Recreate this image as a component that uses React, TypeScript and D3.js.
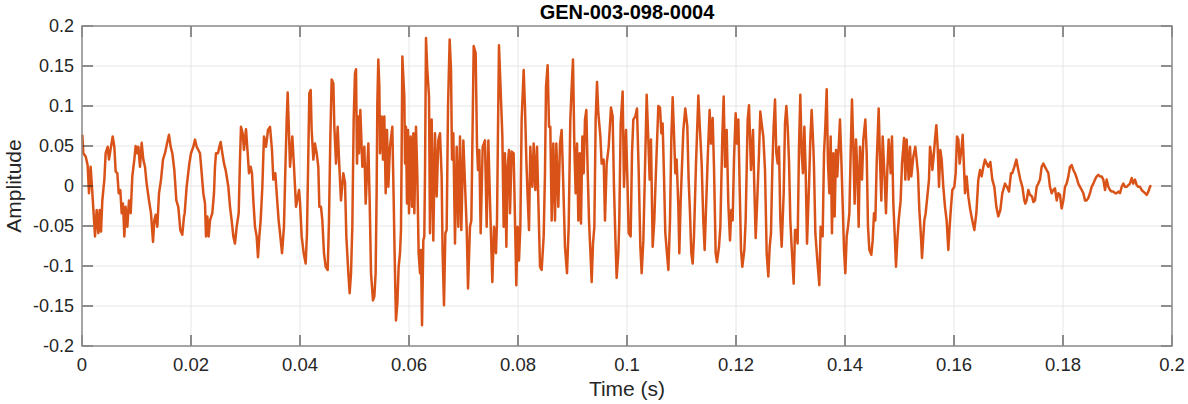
import React from "react";
import * as d3 from "d3";

const TITLE = "GEN-003-098-0004";
const X_LABEL = "Time (s)";
const Y_LABEL = "Amplitude";
const X_TICKS = [0, 0.02, 0.04, 0.06, 0.08, 0.1, 0.12, 0.14, 0.16, 0.18, 0.2];
const Y_TICKS = [-0.2, -0.15, -0.1, -0.05, 0, 0.05, 0.1, 0.15, 0.2];
const X_DOMAIN = [0, 0.2];
const Y_DOMAIN = [-0.2, 0.2];

// sample times in milliseconds
const timeMs = [
  0.06, 0.24, 0.67, 1.04, 1.28, 1.59, 1.9, 2.39, 2.69, 3.0, 3.24, 3.49, 3.73, 4.1, 4.34, 4.71, 4.95, 5.32, 5.63, 5.93,
  6.18, 6.48, 6.73, 7.03, 7.28, 7.52, 7.77, 8.01, 8.32, 8.62, 8.93, 9.23, 9.6, 9.84, 10.09, 10.34, 10.64, 10.95, 11.25, 11.56,
  11.86, 12.29, 12.66, 13.03, 13.27, 13.52, 13.82, 14.13, 14.5, 14.86, 15.23, 15.6, 15.96, 16.27, 16.57, 16.94, 17.31, 17.67, 18.04, 18.4,
  18.72, 18.84, 19.2, 19.69, 20.0, 20.43, 20.73, 21.04, 21.35, 21.65, 21.96, 22.26, 22.57, 22.75, 23.0, 23.24, 23.49, 23.91, 24.22, 24.4,
  24.59, 24.95, 25.2, 25.44, 25.75, 26.06, 26.36, 26.85, 27.16, 27.46, 27.77, 28.07, 28.38, 28.75, 28.99, 29.17, 29.48, 29.72, 30.09, 30.4,
  30.64, 30.95, 31.19, 31.44, 31.74, 32.05, 32.29, 32.54, 32.78, 33.09, 33.39, 33.76, 34.13, 34.5, 34.86, 35.11, 35.47, 35.72, 36.08, 36.33,
  36.7, 37.06, 37.31, 37.56, 37.74, 38.17, 38.59, 38.9, 39.27, 39.82, 40.0, 40.31, 40.67, 41.04, 41.28, 41.53, 41.71, 41.96, 42.14, 42.45,
  42.75, 43.06, 43.36, 43.55, 43.85, 44.1, 44.4, 44.71, 45.08, 45.32, 45.57, 45.81, 46.12, 46.3, 46.61, 46.91, 47.16, 47.52, 47.95, 48.26,
  48.5, 48.87, 49.11, 49.36, 49.6, 49.85, 50.09, 50.28, 50.46, 50.64, 50.83, 51.07, 51.44, 51.81, 52.05, 52.54, 52.78, 53.03, 53.39, 53.64,
  53.88, 54.07, 54.19, 54.37, 54.56, 54.68, 54.99, 55.23, 55.47, 55.72, 55.96, 56.21, 56.51, 56.94, 57.19, 57.36, 57.61, 57.86, 58.1, 58.35,
  58.53, 58.65, 58.78, 58.96, 59.14, 59.27, 59.45, 59.63, 59.82, 60.0, 60.31, 60.55, 60.8, 60.98, 61.28, 61.53, 61.77, 62.02, 62.2, 62.39,
  62.63, 62.81, 62.94, 63.12, 63.36, 63.67, 63.85, 64.16, 64.46, 64.77, 65.08, 65.38, 65.69, 65.99, 66.17, 66.42, 66.67, 66.91, 67.16, 67.46,
  67.71, 67.89, 68.13, 68.44, 68.75, 69.05, 69.36, 69.6, 69.97, 70.34, 70.58, 70.83, 71.19, 71.44, 71.69, 71.87, 72.23, 72.48, 72.66, 72.9,
  73.15, 73.52, 73.94, 74.25, 74.56, 74.86, 75.29, 75.6, 75.96, 76.15, 76.33, 76.51, 76.88, 77.13, 77.37, 77.61, 77.86, 78.1, 78.35, 78.53,
  78.84, 79.2, 79.45, 79.69, 79.94, 80.18, 80.43, 80.67, 81.04, 81.28, 81.53, 81.77, 82.02, 82.26, 82.63, 82.88, 83.18, 83.49, 83.73, 84.04,
  84.34, 84.71, 84.95, 85.14, 85.44, 85.69, 85.93, 86.18, 86.48, 86.79, 87.03, 87.4, 87.71, 88.01, 88.32, 88.62, 88.99, 89.3, 89.6, 89.85,
  90.09, 90.34, 90.58, 90.83, 91.07, 91.32, 91.56, 91.81, 92.05, 92.29, 92.54, 92.78, 93.03, 93.27, 93.52, 93.76, 94.01, 94.25, 94.5, 94.74,
  95.11, 95.35, 95.72, 95.96, 96.27, 96.64, 97.06, 97.37, 97.61, 97.86, 98.1, 98.41, 98.59, 98.84, 99.2, 99.45, 99.82, 100.06, 100.31, 100.67,
  100.92, 101.16, 101.53, 101.83, 102.14, 102.45, 102.69, 103.0, 103.3, 103.61, 103.91, 104.16, 104.4, 104.71, 105.01, 105.32, 105.75, 106.06, 106.3, 106.54,
  106.79, 107.03, 107.28, 107.59, 107.89, 108.14, 108.38, 108.62, 108.87, 109.11, 109.42, 109.6, 109.85, 110.34, 110.7, 111.07, 111.31, 111.56, 111.8, 112.05,
  112.29, 112.66, 113.09, 113.39, 113.7, 114.0, 114.25, 114.8, 115.16, 115.41, 115.72, 115.96, 116.27, 116.51, 116.88, 117.13, 117.49, 117.74, 117.98, 118.29,
  118.59, 118.9, 119.14, 119.39, 119.63, 119.94, 120.18, 120.43, 120.67, 120.92, 121.16, 121.53, 121.77, 122.14, 122.39, 122.75, 123.12, 123.36, 123.61, 123.85,
  124.22, 124.46, 124.71, 125.01, 125.32, 125.63, 125.93, 126.18, 126.42, 126.67, 126.91, 127.16, 127.4, 127.65, 127.89, 128.14, 128.38, 128.75, 128.99, 129.24,
  129.48, 129.72, 129.97, 130.21, 130.58, 130.83, 131.07, 131.31, 131.56, 131.8, 132.05, 132.29, 132.54, 132.78, 133.03, 133.39, 133.64, 133.88, 134.19, 134.31,
  134.56, 134.92, 135.29, 135.53, 135.9, 136.15, 136.39, 136.64, 136.88, 137.13, 137.37, 137.61, 137.86, 138.1, 138.35, 138.59, 138.84, 139.08, 139.33, 139.57,
  139.82, 140.06, 140.31, 140.55, 140.8, 141.04, 141.28, 141.53, 141.77, 142.02, 142.26, 142.51, 142.75, 143.12, 143.36, 143.73, 143.98, 144.22, 144.47, 144.83,
  145.08, 145.32, 145.57, 145.81, 146.18, 146.42, 146.67, 146.91, 147.28, 147.52, 147.77, 148.01, 148.38, 148.62, 148.87, 149.11, 149.36, 149.6, 149.85, 150.21,
  150.46, 150.83, 151.07, 151.31, 151.68, 151.93, 152.17, 152.54, 152.9, 153.15, 153.39, 153.64, 153.94, 154.13, 154.37, 154.56, 154.8, 155.17, 155.41, 155.6,
  155.78, 156.03, 156.27, 156.51, 156.76, 157.0, 157.25, 157.49, 157.74, 158.04, 158.35, 158.65, 158.96, 159.2, 159.45, 159.69, 160.06, 160.31, 160.55, 160.8,
  161.04, 161.41, 161.59, 161.83, 162.02, 162.32, 162.63, 162.99, 163.36, 163.73, 164.1, 164.46, 164.77, 165.08, 165.38, 165.69, 165.99, 166.3, 166.67, 167.03,
  167.4, 167.77, 168.13, 168.5, 168.87, 169.36, 169.72, 170.09, 170.46, 170.7, 171.07, 171.44, 171.8, 172.17, 172.54, 172.9, 173.09, 173.33, 173.64, 173.94,
  174.31, 174.56, 174.86, 175.17, 175.47, 175.78, 176.08, 176.39, 176.7, 177.0, 177.31, 177.61, 177.92, 178.23, 178.53, 178.84, 179.14, 179.45, 179.75, 180.06,
  180.37, 180.67, 180.98, 181.28, 181.59, 181.9, 182.2, 182.51, 182.81, 183.12, 183.43, 183.73, 184.04, 184.34, 184.65, 184.95, 185.26, 185.57, 185.87, 186.18,
  186.48, 186.79, 187.1, 187.4, 187.71, 188.01, 188.32, 188.62, 188.93, 189.24, 189.54, 189.85, 190.15, 190.46, 190.76, 191.07, 191.38, 191.68, 191.99, 192.29,
  192.6, 192.9, 193.21, 193.52, 193.82, 194.13, 194.43, 194.74, 195.05, 195.35, 195.66, 195.96, 196.15,
];

// amplitude at each sample
const amplitude = [
  0.064, 0.041, 0.037, 0.026, -0.009, 0.024, -0.009, -0.063, -0.03, -0.059, -0.03, -0.057, -0.018, 0.008, 0.041, 0.049, 0.033, 0.049, 0.062, 0.049,
  0.018, 0.016, -0.009, -0.005, -0.034, -0.022, -0.063, -0.026, -0.051, -0.018, -0.034, 0.012, 0.033, 0.05, 0.041, 0.049, 0.024, 0.054, 0.033, 0.024,
  0.003, -0.018, -0.034, -0.07, -0.043, -0.036, -0.051, -0.009, 0.008, 0.033, 0.041, 0.053, 0.064, 0.049, 0.041, 0.02, -0.018, -0.026, -0.055, -0.061,
  -0.038, -0.034, -0.001, 0.028, 0.041, 0.049, 0.058, 0.049, 0.045, 0.041, 0.016, -0.009, -0.022, -0.063, -0.038, -0.063, -0.043, -0.034, -0.009, 0.024,
  0.041, 0.041, 0.049, 0.055, 0.041, 0.028, 0.02, -0.001, -0.026, -0.043, -0.063, -0.072, -0.051, -0.034, 0.033, 0.074, 0.066, 0.045, 0.071, 0.041,
  0.016, 0.024, 0.016, -0.018, -0.051, -0.063, -0.089, -0.063, -0.043, -0.001, 0.062, 0.049, 0.07, 0.074, 0.045, 0.008, 0.016, -0.009, -0.043, -0.059,
  -0.084, -0.051, 0.02, 0.083, 0.117, 0.024, 0.062, 0.024, -0.026, -0.005, -0.02, -0.063, -0.084, -0.097, -0.059, 0.041, 0.116, 0.12, 0.07, 0.033,
  0.053, 0.041, 0.024, -0.026, -0.026, -0.043, -0.084, -0.101, -0.105, -0.043, 0.062, 0.133, 0.128, 0.074, 0.028, 0.074, 0.033, -0.018, 0.016, 0.004,
  -0.063, -0.109, -0.134, -0.109, -0.051, 0.083, 0.141, 0.146, 0.028, 0.087, 0.041, 0.095, 0.024, 0.049, -0.022, 0.053, -0.018, -0.109, -0.143, -0.138,
  -0.109, -0.001, 0.103, 0.158, 0.124, 0.041, 0.087, 0.033, 0.087, -0.009, 0.07, -0.001, 0.049, 0.074, -0.018, -0.084, -0.168, -0.147, -0.101, -0.084,
  -0.055, 0.041, 0.162, 0.136, 0.112, 0.028, 0.074, -0.022, 0.07, -0.034, 0.062, -0.026, 0.066, -0.034, 0.074, 0.012, -0.084, -0.109, -0.08, -0.174,
  -0.068, -0.063, 0.02, 0.185, 0.145, 0.112, -0.059, 0.083, -0.068, 0.066, -0.013, 0.057, 0.066, 0.012, -0.084, -0.149, -0.059, -0.055, 0.099, 0.183,
  0.145, 0.033, 0.066, -0.072, 0.049, -0.051, 0.062, -0.055, 0.057, -0.009, -0.051, -0.128, -0.051, -0.043, 0.083, 0.175, 0.166, 0.049, 0.02, 0.045,
  -0.059, 0.049, 0.057, -0.051, 0.057, -0.018, -0.12, -0.051, -0.084, -0.043, 0.07, 0.176, 0.108, 0.062, -0.051, 0.041, -0.076, 0.024, 0.045, -0.034,
  0.043, 0.041, -0.043, -0.124, -0.051, -0.093, -0.051, 0.083, 0.145, 0.099, 0.033, -0.013, -0.055, 0.049, -0.001, 0.053, -0.005, 0.049, -0.018, -0.101,
  -0.105, -0.063, 0.016, 0.124, 0.151, 0.074, 0.074, -0.043, 0.053, -0.043, 0.053, -0.026, 0.053, 0.07, -0.001, -0.076, -0.109, -0.051, 0.083, 0.124,
  0.158, 0.049, -0.009, 0.053, -0.043, 0.041, -0.047, 0.062, 0.016, 0.083, 0.095, 0.02, -0.043, -0.08, -0.12, -0.072, -0.051, 0.083, 0.13, 0.091,
  0.062, 0.028, 0.033, -0.043, 0.028, 0.049, 0.098, 0.087, -0.001, -0.063, -0.115, -0.084, -0.043, 0.078, 0.118, -0.001, 0.07, 0.012, -0.059, -0.063,
  0.041, 0.083, 0.087, 0.097, 0.02, -0.076, -0.109, -0.068, 0.02, 0.114, 0.058, 0.008, 0.058, -0.076, -0.043, 0.02, 0.1, 0.098, 0.066, 0.078,
  0.012, -0.059, -0.08, -0.105, -0.043, 0.062, 0.111, 0.066, 0.016, 0.033, -0.026, -0.084, -0.018, 0.07, 0.097, 0.074, 0.008, -0.034, -0.084, -0.097,
  -0.063, 0.028, 0.113, 0.07, 0.028, -0.043, -0.08, 0.033, 0.095, 0.053, 0.085, 0.024, -0.084, -0.095, -0.076, -0.051, 0.062, 0.112, 0.024, 0.07,
  -0.022, -0.068, -0.03, -0.043, 0.033, 0.091, 0.053, 0.083, -0.001, -0.08, -0.101, -0.08, -0.043, 0.083, 0.101, 0.02, 0.07, -0.001, -0.065, -0.026,
  0.041, 0.093, 0.078, 0.062, 0.02, -0.084, -0.113, -0.076, -0.059, 0.024, 0.074, 0.108, 0.041, 0.028, 0.049, -0.043, -0.076, -0.009, 0.078, 0.1,
  0.074, 0.033, -0.043, -0.076, -0.122, -0.055, -0.055, -0.072, 0.049, 0.114, 0.041, 0.016, 0.074, 0.02, -0.072, -0.001, 0.058, 0.095, 0.049, 0.024,
  -0.059, -0.093, -0.124, -0.051, -0.063, 0.041, 0.074, 0.121, 0.028, -0.009, 0.062, -0.059, 0.041, -0.038, 0.045, 0.012, 0.049, 0.083, 0.033, -0.022,
  -0.08, -0.109, -0.063, -0.051, -0.034, 0.041, 0.108, 0.049, -0.022, 0.058, 0.02, -0.051, 0.049, 0.008, 0.058, 0.083, 0.041, -0.051, -0.08, -0.086,
  -0.068, -0.034, -0.043, 0.028, 0.097, 0.033, -0.018, 0.062, 0.008, -0.034, 0.02, 0.058, 0.016, 0.062, -0.022, -0.059, -0.101, -0.068, -0.043, -0.018,
  0.028, 0.06, 0.008, 0.058, 0.008, 0.049, 0.012, 0.037, 0.049, 0.033, 0.016, -0.03, -0.063, -0.09, -0.063, -0.043, -0.034, -0.009, 0.008, 0.049,
  0.041, 0.02, 0.037, 0.058, 0.076, 0.049, -0.001, 0.045, 0.033, -0.001, -0.026, -0.043, -0.08, -0.051, -0.026, -0.005, -0.001, 0.016, 0.062, 0.058,
  0.028, 0.049, 0.064, 0.024, -0.009, 0.012, -0.013, -0.03, -0.043, -0.055, -0.034, 0.008, 0.02, 0.012, 0.024, 0.033, 0.028, 0.024, 0.03, 0.008,
  -0.001, -0.026, -0.038, -0.03, -0.009, 0.003, -0.001, -0.007, 0.016, 0.016, 0.024, 0.033, 0.02, 0.008, -0.001, -0.018, -0.022, -0.018, -0.005, -0.011,
  -0.013, -0.02, -0.018, -0.001, 0.003, 0.008, 0.024, 0.028, 0.024, 0.02, 0.016, -0.001, -0.009, -0.005, -0.003, -0.018, -0.009, -0.011, -0.028, -0.018,
  -0.001, 0.003, 0.012, 0.024, 0.026, 0.02, 0.016, 0.01, 0.003, -0.001, -0.005, -0.009, -0.018, -0.018, -0.015, -0.009, -0.001, 0.003, 0.008, 0.012,
  0.014, 0.012, 0.012, 0.008, -0.005, 0.008, -0.001, -0.005, -0.007, -0.007, -0.009, -0.009, -0.007, -0.009, -0.001, 0.003, -0.001, -0.001, 0.001, 0.003,
  0.01, 0.003, 0.008, 0.001, -0.001, -0.001, -0.005, -0.007, -0.009, -0.011, -0.007, -0.001, 0.001,
];

const W = 1188;
const H = 404;
const LEFT = 82;
const RIGHT = 1172;
const TOP = 26;
const BOTTOM = 346;
const FONT = "'Liberation Sans', Arial, Helvetica, sans-serif";

export default function App() {
  const x = d3.scaleLinear().domain(X_DOMAIN).range([LEFT, RIGHT]);
  const y = d3.scaleLinear().domain(Y_DOMAIN).range([BOTTOM, TOP]);
  const n = Math.min(timeMs.length, amplitude.length);
  const pts: [number, number][] = [];
  for (let i = 0; i < n; i++) pts.push([timeMs[i] / 1000, amplitude[i]]);
  const line = d3
    .line<[number, number]>()
    .x((d) => x(d[0]))
    .y((d) => y(d[1]));
  const tickLen = 11;
  const fmt = (v: number) => String(+v.toFixed(3));

  return (
    <svg
      width={W}
      height={H}
      style={{ position: "absolute", left: 0, top: 0, background: "#fff" }}
      fontFamily={FONT}
    >
      <rect x={0} y={0} width={W} height={H} fill="#fff" />
      {X_TICKS.map((t) => (
        <line key={"gx" + t} x1={x(t)} x2={x(t)} y1={TOP} y2={BOTTOM} stroke="#e6e6e6" strokeWidth={1} />
      ))}
      {Y_TICKS.map((t) => (
        <line key={"gy" + t} x1={LEFT} x2={RIGHT} y1={y(t)} y2={y(t)} stroke="#e6e6e6" strokeWidth={1} />
      ))}
      <path d={line(pts) || ""} fill="none" stroke="#D95319" strokeWidth={2.5} strokeLinejoin="round" />
      {X_TICKS.map((t) => (
        <g key={"tx" + t}>
          <line x1={x(t)} x2={x(t)} y1={BOTTOM} y2={BOTTOM - tickLen} stroke="#262626" strokeWidth={1} />
          <line x1={x(t)} x2={x(t)} y1={TOP} y2={TOP + tickLen} stroke="#262626" strokeWidth={1} />
          <text x={x(t)} y={364} textAnchor="middle" dominantBaseline="central" fontSize={18.5} fill="#262626">
            {fmt(t)}
          </text>
        </g>
      ))}
      {Y_TICKS.map((t) => (
        <g key={"ty" + t}>
          <line x1={LEFT} x2={LEFT + tickLen} y1={y(t)} y2={y(t)} stroke="#262626" strokeWidth={1} />
          <line x1={RIGHT} x2={RIGHT - tickLen} y1={y(t)} y2={y(t)} stroke="#262626" strokeWidth={1} />
          <text x={74} y={y(t)} textAnchor="end" dominantBaseline="central" fontSize={18} fill="#262626">
            {fmt(t)}
          </text>
        </g>
      ))}
      <rect x={LEFT} y={TOP} width={RIGHT - LEFT} height={BOTTOM - TOP} fill="none" stroke="#8c8c8c" strokeWidth={1.5} />
      <text x={(LEFT + RIGHT) / 2} y={12} textAnchor="middle" dominantBaseline="central" fontSize={20} fontWeight="bold" fill="#000">
        {TITLE}
      </text>
      <text x={(LEFT + RIGHT) / 2} y={388} textAnchor="middle" dominantBaseline="central" fontSize={21} fill="#262626">
        {X_LABEL}
      </text>
      <text
        transform={`translate(13,${(TOP + BOTTOM) / 2}) rotate(-90)`}
        textAnchor="middle"
        dominantBaseline="central"
        fontSize={21}
        fill="#262626"
      >
        {Y_LABEL}
      </text>
    </svg>
  );
}
